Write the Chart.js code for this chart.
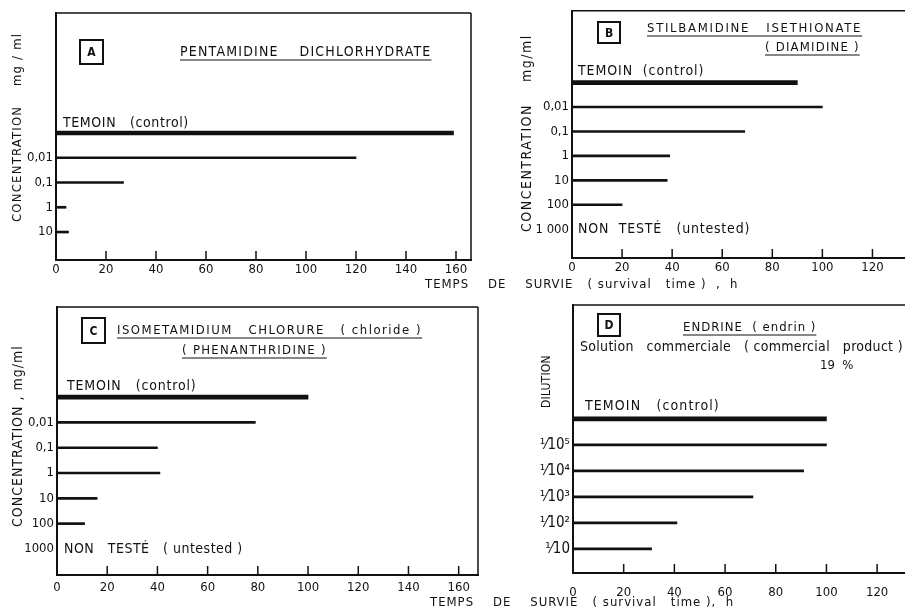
<!DOCTYPE html>
<html>
<head>
<meta charset="utf-8">
<script src="https://cdn.jsdelivr.net/npm/chart.js@4.4.1/dist/chart.umd.min.js"></script>
<style>
	html, body { margin: 0; padding: 0; background: #fff; }
	#wrap { position: relative; width: 905px; height: 612px; }
	canvas { position: absolute; left: 0; top: 0; }
</style>
</head>
<body>
<div id="wrap">
	<canvas id="chart_a" width="905" height="612"></canvas>
	<canvas id="chart_b" width="905" height="612"></canvas>
	<canvas id="chart_c" width="905" height="612"></canvas>
	<canvas id="chart_d" width="905" height="612"></canvas>
</div>
<script>
'use strict';

// rows read top to bottom, first row is the control (TEMOIN)
const rowsA = ['TEMOIN', '0,01', '0,1', '1', '10'];
const hoursA = [159, 120, 27, 4, 5];

const rowsB = ['TEMOIN', '0,01', '0,1', '1', '10', '100', '1 000'];
const hoursB = [90, 100, 69, 39, 38, 20, null];

const rowsC = ['TEMOIN', '0,01', '0,1', '1', '10', '100', '1000'];
const hoursC = [100, 79, 40, 41, 16, 11, null];

const rowsD = ['TEMOIN', '¹⁄10⁵', '¹⁄10⁴', '¹⁄10³', '¹⁄10²', '¹⁄10'];
const hoursD = [100, 100, 91, 71, 41, 31];

const ticksLong = [0, 20, 40, 60, 80, 100, 120, 140, 160];
const ticksShort = [0, 20, 40, 60, 80, 100, 120];

const FONT = '"DejaVu Sans Condensed", "DejaVu Sans", sans-serif';
const INK = '#111';
const Y_AXIS_W = 50,
	X_AXIS_H = 30;

const decoPlugin = {
	id: 'deco',
	afterDraw(chart, args, opts) {
		let ctx = chart.ctx,
			area = chart.chartArea,
			xScale = chart.scales.x,
			yScale = chart.scales.y;
		ctx.save();
		ctx.strokeStyle = INK;
		ctx.fillStyle = INK;

		// frame: top line, optional right line
		ctx.lineWidth = 1.5;
		ctx.beginPath();
		ctx.moveTo(area.left, area.top);
		ctx.lineTo(area.right, area.top);
		if (opts.rightBorder) {
			ctx.moveTo(area.right, area.top);
			ctx.lineTo(area.right, area.bottom);
		}
		ctx.stroke();

		// tick marks pointing up into the plot
		xScale.ticks.forEach(t => {
			if (t.value === 0) return;
			let px = xScale.getPixelForValue(t.value);
			ctx.beginPath();
			ctx.moveTo(px, area.bottom);
			ctx.lineTo(px, area.bottom - 9);
			ctx.stroke();
		});

		// boxed panel letter
		let b = opts.box;
		ctx.lineWidth = 2;
		ctx.strokeRect(b.x, b.y, b.w, b.h);
		ctx.font = 'bold 12px ' + FONT;
		ctx.textAlign = 'center';
		ctx.textBaseline = 'middle';
		ctx.fillText(b.letter, b.x + b.w / 2, b.y + b.h / 2 + 1);

		// free texts
		opts.texts.forEach(t => {
			ctx.font = (t.size || 13) + 'px ' + FONT;
			ctx.letterSpacing = (t.spacing || 0) + 'px';
			ctx.textBaseline = t.baseline || 'alphabetic';
			ctx.textAlign = 'left';
			if (t.rotate) {
				ctx.save();
				ctx.translate(t.x, t.y);
				ctx.rotate(-Math.PI / 2);
				ctx.textBaseline = 'middle';
				ctx.fillText(t.text, 0, 0);
				ctx.restore();
			} else {
				ctx.fillText(t.text, t.x, t.y);
			}
			if (t.underline) {
				let w = ctx.measureText(t.text).width;
				ctx.lineWidth = 1.2;
				ctx.beginPath();
				ctx.moveTo(t.x, t.y + 4);
				ctx.lineTo(t.x + w, t.y + 4);
				ctx.stroke();
			}
		});
		ctx.letterSpacing = '0px';

		// notes placed on a row of the y scale
		opts.rowNotes.forEach(n => {
			ctx.font = (n.size || 14) + 'px ' + FONT;
			ctx.letterSpacing = (n.spacing || 0) + 'px';
			ctx.textAlign = 'left';
			ctx.textBaseline = n.baseline;
			ctx.fillText(n.text, area.left + n.dx, yScale.getPixelForValue(n.row) + n.dy);
		});
		ctx.restore();
	}
};

function makeConfig(rows, hours, xTicks, xMax, yMin, yMax, area, deco, yFont, xPad) {
	let control = [{x: hours[0], y: 0}],
		treated = hours.slice(1)
			.map((h, i) => ({x: h, y: i + 1}))
			.filter(p => p.x !== null),
		pad = {
			left: area.left - Y_AXIS_W,
			top: area.top,
			right: 905 - area.right,
			bottom: 612 - area.bottom - X_AXIS_H,
		};

	return {
		type: 'bar',
		data: {
			datasets: [{
				label: rows[0],
				data: control,
				backgroundColor: INK,
				barThickness: 4,
				grouped: false,
			}, {
				label: 'treated',
				data: treated,
				backgroundColor: INK,
				barThickness: 2,
				grouped: false,
			}],
		},
		options: {
			indexAxis: 'y',
			responsive: false,
			animation: false,
			events: [],
			layout: {padding: pad},
			plugins: {
				legend: {display: false},
				tooltip: {enabled: false},
				deco: deco,
			},
			scales: {
				x: {
					type: 'linear',
					min: 0,
					max: xMax,
					bounds: 'data',
					offset: false,
					grid: {display: false, drawTicks: false},
					border: {display: true, color: INK, width: 2},
					afterFit: s => { s.height = X_AXIS_H; },
					afterBuildTicks: s => { s.ticks = xTicks.map(v => ({value: v})); },
					ticks: {
						color: INK,
						padding: xPad,
						font: {family: FONT, size: 13},
						maxRotation: 0,
						autoSkip: false,
					},
				},
				y: {
					type: 'linear',
					min: yMin,
					max: yMax,
					bounds: 'data',
					offset: false,
					reverse: true,
					grid: {display: false, drawTicks: false},
					border: {display: true, color: INK, width: 2},
					afterFit: s => { s.width = Y_AXIS_W; },
					afterBuildTicks: s => { s.ticks = rows.map((r, i) => ({value: i})); },
					ticks: {
						color: INK,
						padding: 3,
						font: {family: FONT, size: yFont},
						autoSkip: false,
						callback: v => (v === 0 ? '' : rows[v]),
					},
				},
			},
		},
		plugins: [decoPlugin],
	};
}

let decoA = {
		rightBorder: true,
		box: {x: 80, y: 40, w: 23, h: 24, letter: 'A'},
		texts: [
			{text: 'PENTAMIDINE    DICHLORHYDRATE', x: 180, y: 56, size: 14, spacing: 1.2, underline: true},
			{text: 'CONCENTRATION    mg / ml', x: 18, y: 222, size: 13, spacing: 1.2, rotate: true},
			{text: 'TEMPS    DE    SURVIE   ( survival   time )  ,  h', x: 425, y: 288, size: 13, spacing: 1},
		],
		rowNotes: [
			{row: 0, text: 'TEMOIN   (control)', dx: 7, dy: -3, baseline: 'bottom', spacing: 0.6},
		],
	},
	decoB = {
		rightBorder: false,
		box: {x: 598, y: 22, w: 22, h: 21, letter: 'B'},
		texts: [
			{text: 'STILBAMIDINE   ISETHIONATE', x: 647, y: 32, size: 13, spacing: 1.7, underline: true},
			{text: '( DIAMIDINE )', x: 765, y: 51, size: 13, spacing: 1.2, underline: true},
			{text: 'CONCENTRATION    mg/ml', x: 527, y: 232, size: 14, spacing: 1.5, rotate: true},
		],
		rowNotes: [
			{row: 0, text: 'TEMOIN  (control)', dx: 6, dy: -4, baseline: 'bottom', spacing: 0.9},
			{row: 6, text: 'NON  TESTÉ   (untested)', dx: 6, dy: 0, baseline: 'middle', spacing: 0.8},
		],
	},
	decoC = {
		rightBorder: true,
		box: {x: 82, y: 318, w: 23, h: 25, letter: 'C'},
		texts: [
			{text: 'ISOMETAMIDIUM   CHLORURE   ( chloride )', x: 117, y: 334, size: 13, spacing: 1.5, underline: true},
			{text: '( PHENANTHRIDINE )', x: 182, y: 354, size: 13, spacing: 1.3, underline: true},
			{text: 'CONCENTRATION , mg/ml', x: 18, y: 527, size: 14, spacing: 1, rotate: true},
			{text: 'TEMPS    DE    SURVIE   ( survival   time ),  h', x: 430, y: 606, size: 13, spacing: 1},
		],
		rowNotes: [
			{row: 0, text: 'TEMOIN   (control)', dx: 10, dy: -4, baseline: 'bottom', spacing: 0.8},
			{row: 6, text: 'NON   TESTÉ   ( untested )', dx: 7, dy: 0, baseline: 'middle', spacing: 0.5},
		],
	},
	decoD = {
		rightBorder: false,
		box: {x: 598, y: 314, w: 22, h: 22, letter: 'D'},
		texts: [
			{text: 'ENDRINE  ( endrin )', x: 683, y: 331, size: 13, spacing: 1, underline: true},
			{text: 'Solution   commerciale   ( commercial   product )', x: 580, y: 351, size: 14, spacing: 0.3},
			{text: '19  %', x: 820, y: 369, size: 13},
			{text: 'DILUTION', x: 547, y: 408, size: 12, spacing: 0.2, rotate: true},
		],
		rowNotes: [
			{row: 0, text: 'TEMOIN   (control)', dx: 12, dy: -5, baseline: 'bottom', spacing: 1.1},
		],
	};

new Chart(document.getElementById('chart_a').getContext('2d'),
	makeConfig(rowsA, hoursA, ticksLong, 166, -4.85, 5.13,
		{left: 56, top: 13, right: 471, bottom: 260}, decoA, 13, 2));

new Chart(document.getElementById('chart_b').getContext('2d'),
	makeConfig(rowsB, hoursB, ticksShort, 133, -2.94, 7.18,
		{left: 572, top: 10, right: 905, bottom: 258}, decoB, 13, 2));

new Chart(document.getElementById('chart_c').getContext('2d'),
	makeConfig(rowsC, hoursC, ticksLong, 167.7, -3.56, 7.03,
		{left: 57, top: 307, right: 478, bottom: 575}, decoC, 13, 5));

new Chart(document.getElementById('chart_d').getContext('2d'),
	makeConfig(rowsD, hoursD, ticksShort, 131, -4.38, 5.93,
		{left: 573, top: 305, right: 905, bottom: 573}, decoD, 15, 12));
</script>
</body>
</html>
